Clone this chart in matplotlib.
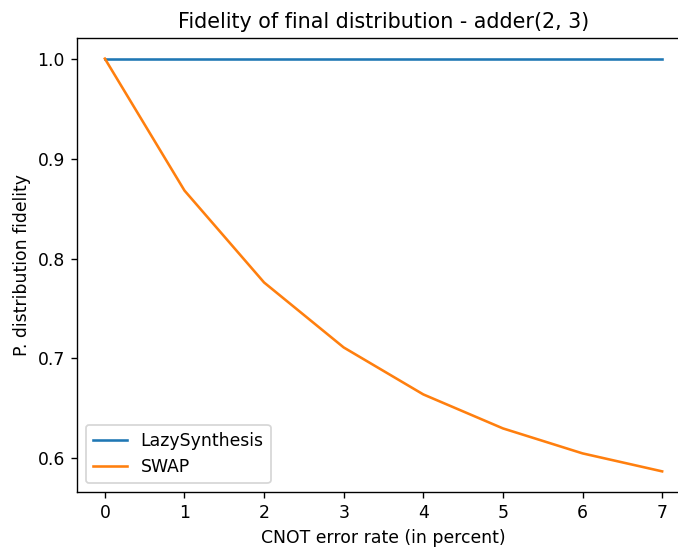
import matplotlib
matplotlib.use("Agg")
import matplotlib.pyplot as plt

# CNOT error rate (percent) and resulting distribution fidelity
error_rate = [0, 1, 2, 3, 4, 5, 6, 7]
lazy_fidelity = [1.0, 1.0, 1.0, 1.0, 1.0, 1.0, 1.0, 1.0]
swap_fidelity = [1.0, 0.868, 0.776, 0.711, 0.664, 0.630, 0.605, 0.587]

DPI = 124
fig = plt.figure(figsize=(678 / DPI, 551 / DPI), dpi=DPI)
# the original is cropped on the right, so the axes run past the figure edge
ax = fig.add_axes([77 / 678, 1 - 492 / 551, 613 / 678, 454 / 551])

ax.plot(error_rate, lazy_fidelity, label="LazySynthesis")
ax.plot(error_rate, swap_fidelity, label="SWAP")
ax.set_xlim(-0.35, 7.35)
ax.spines["right"].set_visible(False)

ax.set_title("Fidelity of final distribution - adder(2, 3)")
ax.set_xlabel("CNOT error rate (in percent)")
ax.set_ylabel("P. distribution fidelity")
ax.legend(loc="lower left")

fig.savefig("out.png", dpi=DPI)
